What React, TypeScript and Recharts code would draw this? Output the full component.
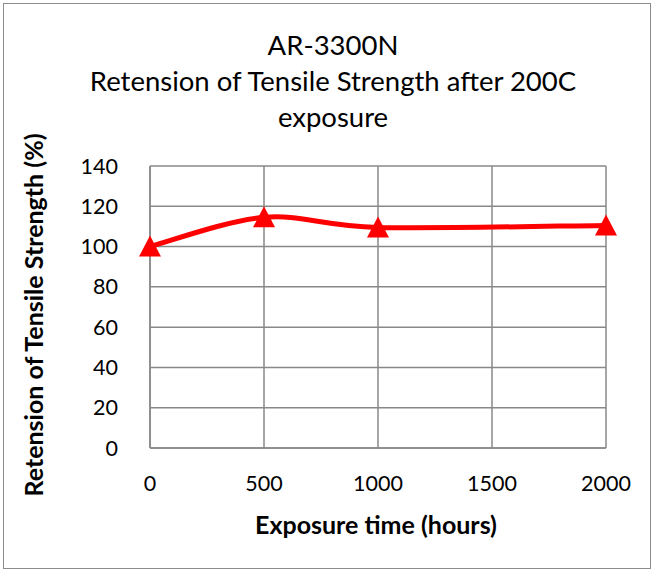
import { LineChart, Line, XAxis, YAxis, CartesianGrid } from 'recharts';

const hours = [0, 500, 1000, 2000];
const retention = [100, 114.5, 109.5, 110.5];
const xTicks = [0, 500, 1000, 1500, 2000];
const yTicks = [0, 20, 40, 60, 80, 100, 120, 140];
const titleLines = ['AR-3300N', 'Retension of Tensile Strength after 200C', 'exposure'];

const data = hours.map((h, i) => ({ h, v: retention[i] }));

const FONT = 'Lato, "Open Sans", sans-serif';
const GRID = '#888888';

// Excel-like smoothed line (Catmull-Rom to bezier)
const smoothCurve = (ctx: any) => {
  let pts: number[][] = [];
  return {
    areaStart() {},
    areaEnd() {},
    lineStart() {
      pts = [];
    },
    point(x: number, y: number) {
      pts.push([+x, +y]);
    },
    lineEnd() {
      if (!pts.length) return;
      ctx.moveTo(pts[0][0], pts[0][1]);
      for (let i = 0; i < pts.length - 1; i++) {
        const p0 = pts[i - 1] || pts[i];
        const p1 = pts[i];
        const p2 = pts[i + 1];
        const p3 = pts[i + 2] || p2;
        ctx.bezierCurveTo(
          p1[0] + (p2[0] - p0[0]) / 6,
          p1[1] + (p2[1] - p0[1]) / 6,
          p2[0] - (p3[0] - p1[0]) / 6,
          p2[1] - (p3[1] - p1[1]) / 6,
          p2[0],
          p2[1]
        );
      }
    },
  };
};

const Triangle = (props: any) => {
  const { cx, cy } = props;
  if (cx == null || cy == null) return null;
  return (
    <polygon
      points={`${cx},${cy - 11} ${cx - 11},${cy + 10} ${cx + 11},${cy + 10}`}
      fill="#ff0000"
    />
  );
};

export default function App() {
  return (
    <div style={{ position: 'absolute', left: 0, top: 0, width: 654, height: 571, fontFamily: FONT }}>
      <div
        style={{
          position: 'absolute',
          left: 3,
          top: 3,
          width: 646,
          height: 564,
          border: '1px solid #8c8c8c',
        }}
      />
      <div
        style={{
          position: 'absolute',
          left: 0,
          top: 27,
          width: 666,
          textAlign: 'center',
          fontSize: 27.5,
          lineHeight: '36px',
          color: '#000',
        }}
      >
        {titleLines.map((t) => (
          <div key={t}>{t}</div>
        ))}
      </div>
      <div
        style={{
          position: 'absolute',
          left: 33,
          top: 315,
          transform: 'translate(-50%, -50%) rotate(-90deg)',
          whiteSpace: 'nowrap',
          fontSize: 25,
          fontWeight: 'bold',
          color: '#000',
        }}
      >
        Retension of Tensile Strength (%)
      </div>
      <div
        style={{
          position: 'absolute',
          left: 376,
          top: 524,
          transform: 'translate(-50%, -50%)',
          whiteSpace: 'nowrap',
          fontSize: 25,
          fontWeight: 'bold',
          color: '#000',
        }}
      >
        Exposure time (hours)
      </div>
      <LineChart
        width={654}
        height={571}
        data={data}
        margin={{ top: 166, right: 48, bottom: 83, left: 100 }}
      >
        <CartesianGrid stroke={GRID} strokeWidth={1.5} />
        <XAxis
          dataKey="h"
          type="number"
          domain={[0, 2000]}
          ticks={xTicks}
          tickLine={false}
          axisLine={{ stroke: GRID, strokeWidth: 1.5 }}
          tickSize={0}
          tickMargin={28}
          tick={{ fill: '#000', fontSize: 21.5, fontFamily: FONT }}
          height={40}
        />
        <YAxis
          type="number"
          domain={[0, 140]}
          ticks={yTicks}
          tickLine={false}
          axisLine={{ stroke: GRID, strokeWidth: 1.5 }}
          tickSize={0}
          tickMargin={32}
          tick={{ fill: '#000', fontSize: 21.5, fontFamily: FONT }}
          width={50}
        />
        <Line
          dataKey="v"
          type={smoothCurve as any}
          stroke="#ff0000"
          strokeWidth={5}
          dot={<Triangle />}
          activeDot={false}
          isAnimationActive={false}
        />
      </LineChart>
    </div>
  );
}
